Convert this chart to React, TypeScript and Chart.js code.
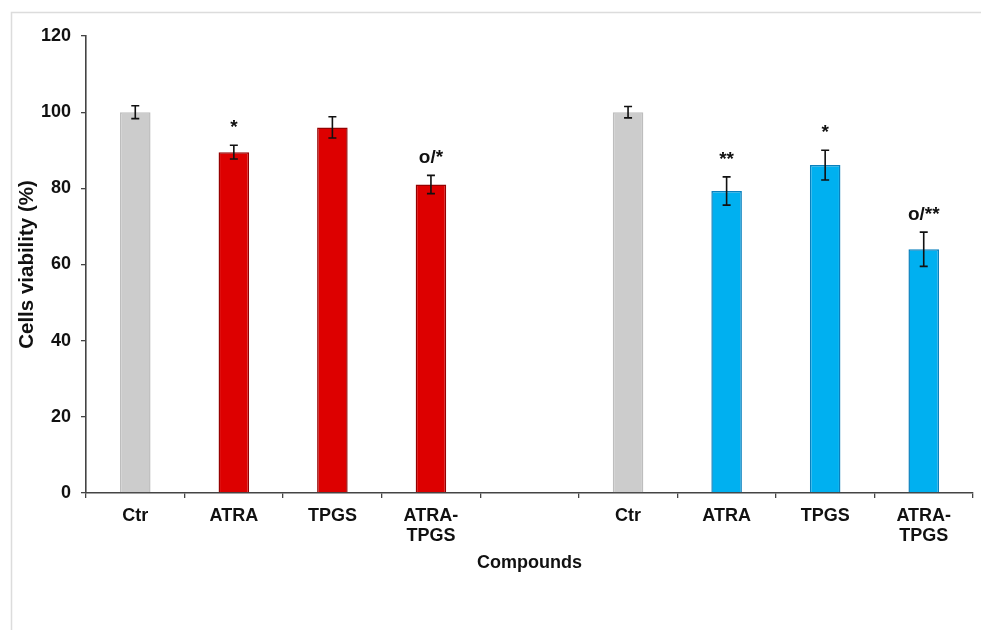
import React, { useEffect, useRef } from "react";
import { Chart, registerables } from "chart.js";

Chart.register(...registerables);

const categories: (string | string[])[] = [
  "Ctr",
  "ATRA",
  "TPGS",
  ["ATRA-", "TPGS"],
  "",
  "Ctr",
  "ATRA",
  "TPGS",
  ["ATRA-", "TPGS"],
];
const viability: (number | null)[] = [100, 89.5, 96, 81, null, 100, 79.3, 86.1, 64];
const errors: (number | null)[] = [1.7, 1.8, 2.8, 2.4, null, 1.5, 3.7, 3.9, 4.5];
const significance: string[] = ["", "*", "", "o/*", "", "", "**", "*", "o/**"];
const yMin = 0;
const yMax = 120;
const yStep = 20;

const fillColors = ["#cccccc", "#dd0000", "#dd0000", "#dd0000", "#ffffff", "#cccccc", "#00b0f0", "#00b0f0", "#00b0f0"];
const edgeColors = ["#bdbdbd", "#960000", "#960000", "#960000", "#ffffff", "#bdbdbd", "#0a80bd", "#0a80bd", "#0a80bd"];

const FONT = "'Liberation Sans', Arial, sans-serif";

const extrasPlugin = {
  id: "extras",
  beforeDraw(chart: any) {
    const ctx = chart.ctx;
    ctx.save();
    ctx.strokeStyle = "#dcdcdc";
    ctx.lineWidth = 1.5;
    ctx.beginPath();
    ctx.moveTo(11.5, 630);
    ctx.lineTo(11.5, 12.5);
    ctx.lineTo(981, 12.5);
    ctx.stroke();
    ctx.restore();
  },
  afterDatasetsDraw(chart: any) {
    const ctx = chart.ctx;
    const meta = chart.getDatasetMeta(0);
    const y = chart.scales.y;
    ctx.save();
    ctx.strokeStyle = "#111111";
    ctx.fillStyle = "#111111";
    ctx.lineWidth = 1.6;
    meta.data.forEach((bar: any, i: number) => {
      const v = viability[i];
      const e = errors[i];
      if (v == null || e == null) return;
      const x = bar.x;
      const top = y.getPixelForValue(v + e);
      const bot = y.getPixelForValue(v - e);
      ctx.beginPath();
      ctx.moveTo(x, top);
      ctx.lineTo(x, bot);
      ctx.moveTo(x - 4, top);
      ctx.lineTo(x + 4, top);
      ctx.moveTo(x - 4, bot);
      ctx.lineTo(x + 4, bot);
      ctx.stroke();
      const s = significance[i];
      if (s) {
        ctx.font = `bold 19px ${FONT}`;
        ctx.textAlign = "center";
        ctx.textBaseline = "alphabetic";
        ctx.fillText(s, x, top - 12);
      }
    });
    ctx.restore();
  },
};

export default function App() {
  const ref = useRef<HTMLCanvasElement | null>(null);
  useEffect(() => {
    if (!ref.current) return;
    const chart = new Chart(ref.current, {
      type: "bar",
      data: {
        labels: categories as any,
        datasets: [
          {
            data: viability as any,
            backgroundColor: fillColors,
            borderColor: edgeColors,
            borderWidth: 1.5,
            barPercentage: 0.31,
            categoryPercentage: 1,
          },
        ],
      },
      options: {
        animation: false,
        responsive: false,
        maintainAspectRatio: false,
        layout: { padding: { left: 0, right: 8, top: 36, bottom: 0 } },
        plugins: {
          legend: { display: false },
          tooltip: { enabled: false },
        },
        scales: {
          x: {
            offset: true,
            grid: {
              offset: true,
              drawOnChartArea: false,
              drawTicks: true,
              tickLength: 5,
              color: "#444444",
              lineWidth: 1.3,
            },
            border: { color: "#444444", width: 1.6 },
            ticks: {
              color: "#111111",
              font: { family: FONT, size: 18, weight: "bold", lineHeight: 1.12 },
              padding: 8,
              maxRotation: 0,
              autoSkip: false,
            },
            title: {
              display: true,
              text: "Compounds",
              color: "#111111",
              font: { family: FONT, size: 18, weight: "bold" },
              padding: { top: 0, bottom: 56 },
            },
            afterFit: (s: any) => {
              s.height = 137;
            },
          },
          y: {
            min: yMin,
            max: yMax,
            ticks: {
              stepSize: yStep,
              color: "#111111",
              font: { family: FONT, size: 18, weight: "bold" },
              padding: 10,
            },
            grid: {
              drawOnChartArea: false,
              drawTicks: true,
              tickLength: 5,
              color: "#444444",
              lineWidth: 1.3,
            },
            border: { color: "#444444", width: 1.6 },
            title: {
              display: true,
              text: "Cells viability (%)",
              color: "#111111",
              font: { family: FONT, size: 20.5, weight: "bold" },
              padding: { top: 15, bottom: 0 },
            },
            afterFit: (s: any) => {
              s.width = 86;
            },
          },
        },
      },
      plugins: [extrasPlugin],
    });
    return () => chart.destroy();
  }, []);
  return (
    <div style={{ position: "absolute", left: 0, top: 0, width: 981, height: 630, background: "#ffffff" }}>
      <canvas ref={ref} width={981} height={630} style={{ display: "block" }} />
    </div>
  );
}
